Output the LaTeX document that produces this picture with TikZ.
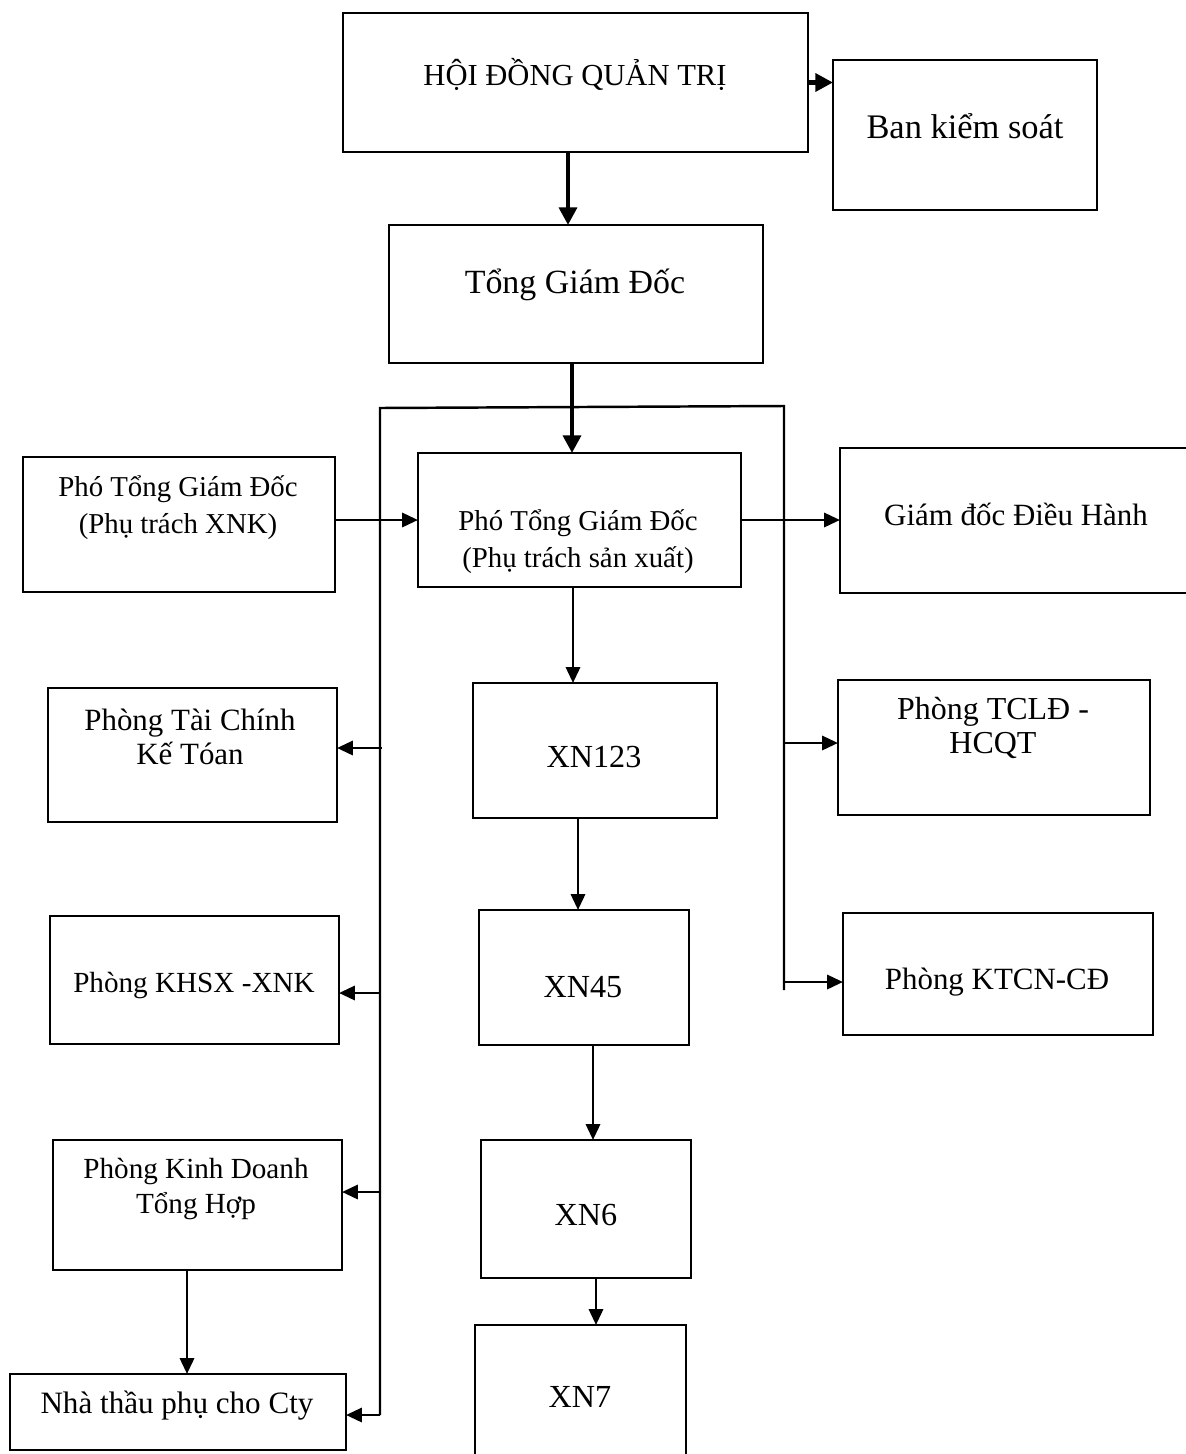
\documentclass[tikz,border=0pt]{standalone}
\usepackage{fontspec}
\setmainfont{Liberation Serif}
\usetikzlibrary{arrows.meta}
\newcommand\fsz[2]{\fontsize{#1}{#2}\selectfont}
\newcommand\mkbox[5]{\node[orgbox, minimum width={(#4-#2)*0.02cm}, minimum height={(#5-#3)*0.02cm}] (#1) at ({(#2+#4)/2},{(#3+#5)/2}) {};}
\tikzset{
  orgbox/.style={draw, rectangle, line width=1.5pt, inner sep=0pt, outer sep=0pt},
  lbl/.style={align=center, inner sep=0pt},
  bigarr/.style={line width=2.8pt, -{Triangle[length=10pt,width=10pt]}},
  arr/.style={line width=1.6pt, -{Triangle[length=9pt,width=8pt]}},
  busline/.style={line width=1.4pt, line join=miter}
}
\begin{document}
\begin{tikzpicture}[x=0.02cm, y=-0.02cm]
\useasboundingbox (0,0) rectangle (1186,1454);
\fill[white] (0,0) rectangle (1186,1454);

% boxes
\mkbox{hdqt}{343}{13}{808}{152}
\mkbox{bks}{833}{60}{1097}{210}
\mkbox{tgd}{389}{225}{763}{363}
\mkbox{pxnk}{23}{457}{335}{592}
\mkbox{psx}{418}{453}{741}{587}
\mkbox{gddh}{840}{448}{1200}{593}
\mkbox{tckt}{48}{688}{337}{822}
\mkbox{khsx}{50}{916}{339}{1044}
\mkbox{kdth}{53}{1140}{342}{1270}
\mkbox{nt}{10}{1374}{346}{1450}
\mkbox{tcld}{838}{680}{1150}{815}
\mkbox{ktcn}{843}{913}{1153}{1035}
\mkbox{xna}{473}{683}{717}{818}
\mkbox{xnb}{479}{910}{689}{1045}
\mkbox{xnc}{481}{1140}{691}{1278}
\mkbox{xnd}{475}{1325}{686}{1475}

% labels
\node[lbl, font=\fsz{17.4pt}{20pt}] (t1) at (575,74) {HỘI ĐỒNG QUẢN TRỊ};
\node[lbl, font=\fsz{19.6pt}{22pt}] (t2) at (965,126) {Ban kiểm soát};
\node[lbl, font=\fsz{19.3pt}{22pt}] (t3) at (575,285) {Tổng Giám Đốc};
\node[lbl, font=\fsz{16.4pt}{21pt}] (t4) at (178,508) {Phó Tổng Giám Đốc\\(Phụ trách XNK)};
\node[lbl, font=\fsz{16.4pt}{21pt}] (t5) at (578,542) {Phó Tổng Giám Đốc\\(Phụ trách sản xuất)};
\node[lbl, font=\fsz{17.6pt}{21pt}] (t6) at (1016,514) {Giám đốc Điều Hành};
\node[lbl, font=\fsz{17.6pt}{19.5pt}] (t7) at (190,737) {Phòng Tài Chính\\Kế Tóan};
\node[lbl, font=\fsz{16.6pt}{19pt}] (t8) at (194,985) {Phòng KHSX -XNK};
\node[lbl, font=\fsz{16.6pt}{20pt}] (t9) at (196,1189) {Phòng Kinh Doanh\\Tổng Hợp};
\node[lbl, font=\fsz{17.7pt}{21pt}] (t10) at (177,1406) {Nhà thầu phụ cho Cty};
\node[lbl, font=\fsz{18.2pt}{19pt}] (t11) at (993,728) {Phòng TCLĐ -\\HCQT};
\node[lbl, font=\fsz{17.6pt}{21pt}] (t12) at (997,982) {Phòng KTCN-CĐ};
\node[lbl, font=\fsz{18.3pt}{21pt}] (t13) at (594,757) {XN123};
\node[lbl, font=\fsz{18.3pt}{21pt}] (t14) at (583,987) {XN45};
\node[lbl, font=\fsz{18.3pt}{21pt}] (t15) at (586,1215) {XN6};
\node[lbl, font=\fsz{18.3pt}{21pt}] (t16) at (580,1397) {XN7};

% helper coordinates
\coordinate (v1) at (568,0);
\coordinate (v2) at (572,0);
\coordinate (v3) at (573,0);
\coordinate (v4) at (578,0);
\coordinate (v5) at (593,0);
\coordinate (v6) at (596,0);
\coordinate (v7) at (187,0);
\coordinate (busRb) at (784,990);
\coordinate (busRt) at (784,406);
\coordinate (busLt) at (380,408);
\coordinate (busLb) at (380,1415);
\coordinate (bl1) at (382,748);
\coordinate (bl2) at (380,993);
\coordinate (bl3) at (380,1192);
\coordinate (br1) at (784,743);
\coordinate (br2) at (784,982);

% connectors
\draw[bigarr] (hdqt.east) -- (bks.west |- hdqt.east);
\draw[bigarr] (hdqt.south -| v1) -- (tgd.north -| v1);
\draw[busline] (busRb) -- (busRt) -- (busLt) -- (busLb);
\draw[bigarr] (tgd.south -| v2) -- (psx.north -| v2);
\draw[arr] (pxnk.east |- psx.west) -- (psx.west);
\draw[arr] (psx.east) -- (gddh.west |- psx.east);
\draw[arr] (psx.south -| v3) -- (xna.north -| v3);
\draw[arr] (xna.south -| v4) -- (xnb.north -| v4);
\draw[arr] (xnb.south -| v5) -- (xnc.north -| v5);
\draw[arr] (xnc.south -| v6) -- (xnd.north -| v6);
\draw[arr] (bl1) -- (tckt.east |- bl1);
\draw[arr] (bl2) -- (khsx.east |- bl2);
\draw[arr] (bl3) -- (kdth.east |- bl3);
\draw[arr] (busLb) -- (nt.east |- busLb);
\draw[arr] (kdth.south -| v7) -- (nt.north -| v7);
\draw[arr] (br1) -- (tcld.west |- br1);
\draw[arr] (br2) -- (ktcn.west |- br2);
\end{tikzpicture}
\end{document}
